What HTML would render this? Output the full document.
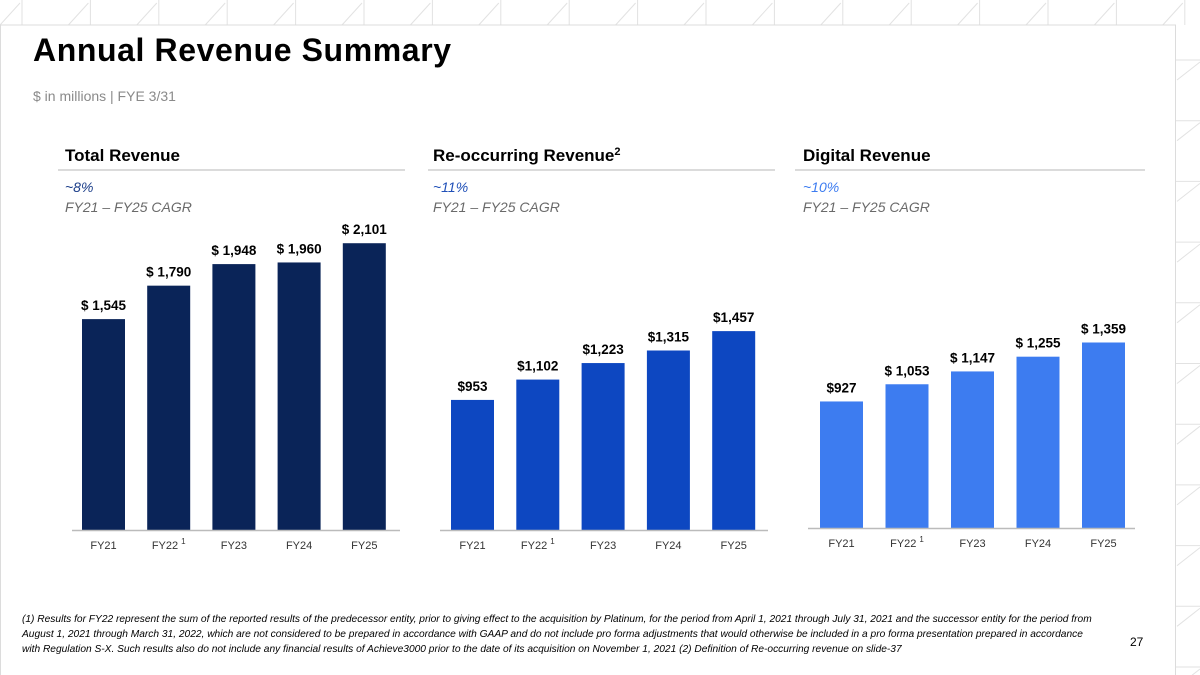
<!DOCTYPE html>
<html><head><meta charset="utf-8">
<style>
html,body{margin:0;padding:0;background:#fff;}
body{width:1200px;height:675px;overflow:hidden;position:relative;font-family:"Liberation Sans",sans-serif;}
svg{position:absolute;left:0;top:0;}
</style></head>
<body>
<svg id="s" width="1200" height="675" viewBox="0 0 1200 675">
  <g id="deco" stroke="#e2e2e2" stroke-width="1" fill="none"></g>
  <rect x="0.5" y="25" width="1175" height="660" fill="#fff" stroke="#dcdcdc"/>
  <text x="33" y="61" font-family="Liberation Sans, sans-serif" font-weight="bold" font-size="32" letter-spacing="0.6" fill="#000">Annual Revenue Summary</text>
  <text x="33" y="101" font-size="14" fill="#8a8a8a">$ in millions | FYE 3/31</text>
  <g id="charts"></g>
  <g font-size="10.2" font-style="italic" fill="#000">
    <text x="22" y="622">(1) Results for FY22 represent the sum of the reported results of the predecessor entity, prior to giving effect to the acquisition by Platinum, for the period from April 1, 2021 through July 31, 2021 and the successor entity for the period from</text>
    <text x="22" y="637">August 1, 2021 through March 31, 2022, which are not considered to be prepared in accordance with GAAP and do not include pro forma adjustments that would otherwise be included in a pro forma presentation prepared in accordance</text>
    <text x="22" y="652">with Regulation S-X. Such results also do not include any financial results of Achieve3000 prior to the date of its acquisition on November 1, 2021 (2) Definition of Re-occurring revenue on slide-37</text>
  </g>
  <text x="1130" y="646" font-size="12" fill="#000">27</text>
</svg>
<script>
const categories = ["FY21","FY22","FY23","FY24","FY25"];
const totalRevenue = [1545,1790,1948,1960,2101];
const reoccurringRevenue = [953,1102,1223,1315,1457];
const digitalRevenue = [927,1053,1147,1255,1359];
const totalLabels = ["$ 1,545","$ 1,790","$ 1,948","$ 1,960","$ 2,101"];
const reoccurringLabels = ["$953","$1,102","$1,223","$1,315","$1,457"];
const digitalLabels = ["$927","$ 1,053","$ 1,147","$ 1,255","$ 1,359"];
const cagrValues = ["~8%","~11%","~10%"];

const NS="http://www.w3.org/2000/svg";
function mk(tag,attrs,parent){const e=document.createElementNS(NS,tag);for(const k in attrs)e.setAttribute(k,attrs[k]);parent.appendChild(e);return e;}

const deco=document.getElementById('deco');
for(let i=0;i<18;i++){const x=22+i*68.4;
  mk('line',{x1:x,y1:0,x2:x,y2:25},deco);
  mk('line',{x1:x-22,y1:25,x2:x-2,y2:3},deco);}
for(let i=0;i<11;i++){const y=60+i*60.7;
  mk('line',{x1:1175,y1:y,x2:1200,y2:y},deco);
  mk('line',{x1:1177,y1:y+20,x2:1200,y2:y+2},deco);}

const charts=document.getElementById('charts');
const panels=[
 {title:"Total Revenue",sup:"",x0:58,x1:405,tx:65,barX:82,step:65.2,base:530,vals:totalRevenue,labels:totalLabels,color:"#0a2458",cagrColor:"#1d3f8a",axis:[72,400],name:"total-revenue"},
 {title:"Re-occurring Revenue",sup:"2",x0:428,x1:775,tx:433,barX:451,step:65.3,base:530,vals:reoccurringRevenue,labels:reoccurringLabels,color:"#0d47c1",cagrColor:"#2050b8",axis:[440,768],name:"reoccurring-revenue"},
 {title:"Digital Revenue",sup:"",x0:795,x1:1145,tx:803,barX:820,step:65.5,base:528,vals:digitalRevenue,labels:digitalLabels,color:"#3d7cf0",cagrColor:"#3d7cf0",axis:[808,1135],name:"digital-revenue"}
];
const scale=0.1365, bw=43;
function yOf(p,v){return p.base - v*scale;}
panels.forEach((p,pi)=>{
  const g=mk('g',{},charts);
  
  
  const t=mk('text',{x:p.tx,y:161,'font-size':17,'font-weight':'bold',fill:'#000'},g);
  t.textContent=p.title;
  
  
  if(p.sup){const s=mk('tspan',{'font-size':11,dy:-6},t);s.textContent=p.sup;}
  const ul=mk('line',{x1:p.x0,y1:170,x2:p.x1,y2:170,stroke:'#cfcfcf','stroke-width':1.5},g);
  
  
  const c1=mk('text',{x:p.tx,y:192,'font-size':14,'font-style':'italic',fill:p.cagrColor},g);
  c1.textContent=cagrValues[pi];
  
  
  const c2=mk('text',{x:p.tx,y:212,'font-size':14,'font-style':'italic',fill:'#6a6a6a'},g);
  c2.textContent="FY21 – FY25 CAGR";
  
  
  p.vals.forEach((v,i)=>{
    const x=p.barX+i*p.step, y=yOf(p,v);
    const r=mk('rect',{x:x,y:y,width:bw,height:p.base-y,fill:p.color},g);
    
    
    const l=mk('text',{x:x+bw/2,y:y-9,'font-size':13.5,'font-weight':'bold','text-anchor':'middle',fill:'#000'},g);
    l.textContent=p.labels[i];
    
    
    const c=mk('text',{x:x+bw/2,y:p.base+19,'font-size':11,'text-anchor':'middle',fill:'#333'},g);
    c.textContent=categories[i];
    
    
    if(i===1){const s=mk('tspan',{'font-size':8,dx:3,dy:-5},c);s.textContent="1";}
  });
  const ax=mk('line',{x1:p.axis[0],y1:p.base+0.5,x2:p.axis[1],y2:p.base+0.5,stroke:'#bbb','stroke-width':1.5},g);
  
  
});
</script>
</body></html>
